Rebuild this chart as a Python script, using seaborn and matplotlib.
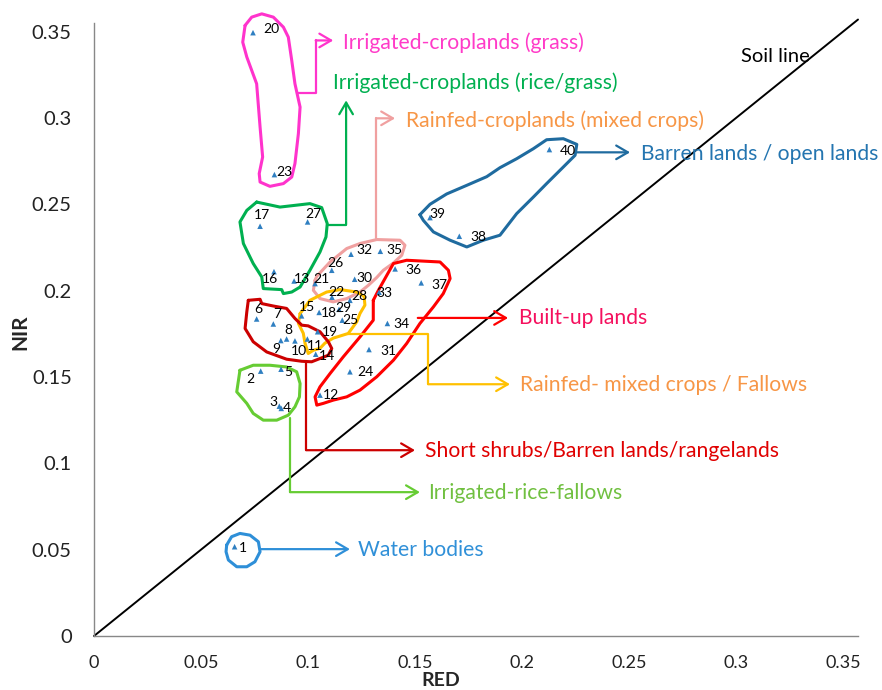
import numpy as np
import pandas as pd
import matplotlib
matplotlib.use("Agg")
import matplotlib.pyplot as plt
import seaborn as sns

# ---------------- data ----------------
point_id = list(range(1, 41))
red = [0.0657, 0.0779, 0.0866, 0.0875, 0.0874, 0.0760, 0.0838, 0.0900, 0.0873, 0.0939,
       0.0997, 0.1056, 0.0935, 0.1036, 0.0970, 0.0841, 0.0776, 0.1052, 0.1045, 0.0743,
       0.1033, 0.1112, 0.0843, 0.1196, 0.1160, 0.1111, 0.0998, 0.1196, 0.1145, 0.1218,
       0.1285, 0.1201, 0.1332, 0.1371, 0.1338, 0.1407, 0.1529, 0.1707, 0.1570, 0.2128]
nir = [0.0517, 0.1534, 0.1331, 0.1318, 0.1545, 0.1836, 0.1807, 0.1720, 0.1711, 0.1709,
       0.1720, 0.1395, 0.2056, 0.1632, 0.1854, 0.2110, 0.2373, 0.1874, 0.1762, 0.3494,
       0.2041, 0.1962, 0.2672, 0.1530, 0.1829, 0.2118, 0.2398, 0.1944, 0.1892, 0.2066,
       0.1659, 0.2211, 0.1991, 0.1810, 0.2228, 0.2126, 0.2045, 0.2315, 0.2423, 0.2817]

x_ticks = [0, 0.05, 0.1, 0.15, 0.2, 0.25, 0.3, 0.35]
x_tick_labels = ["0", "0.05", "0.1", "0.15", "0.2", "0.25", "0.3", "0.35"]
y_ticks = [0, 0.05, 0.1, 0.15, 0.2, 0.25, 0.3, 0.35]
y_tick_labels = ["0", "0.05", "0.1", "0.15", "0.2", "0.25", "0.3", "0.35"]

soil_red = [0.0, 0.357]
soil_nir = [0.0, 0.357]

class_names = [
    "Irrigated-croplands (grass)",
    "Irrigated-croplands (rice/grass)",
    "Rainfed-croplands (mixed crops)",
    "Barren lands / open lands",
    "Built-up lands",
    "Rainfed- mixed crops / Fallows",
    "Short shrubs/Barren lands/rangelands",
    "Irrigated-rice-fallows",
    "Water bodies",
]

# ---------------- label offsets (pixels, right / down) ----------------
label_offset_px = [(8, 1), (-10, 8), (-6, -4), (6, 0), (7, 3), (2, -10), (4, -10), (2, -9), (-5, 8), (4, 10),
                   (8, 7), (11, 0), (8, -2), (11, 2), (5, -9), (-4, 7), (2, -11), (10, 1), (12, 0), (18, -4),
                   (6, -5), (4, -5), (10, -3), (15, 0), (8, 0), (4, -7), (6, -8), (9, -4), (4, -1), (10, -1),
                   (19, 1), (13, -4), (5, 1), (14, 1), (14, -1), (18, 1), (18, 2), (19, 1), (7, -4), (18, 1)]

# ---------------- annotation geometry (data units) ----------------
annotations = [
    dict(outline=[(0.0706, 0.3536), (0.0737, 0.3584), (0.0784, 0.3603), (0.0838, 0.3584), (0.0885, 0.3526),
                  (0.0908, 0.3468), (0.0924, 0.3333), (0.0939, 0.3198), (0.0963, 0.3063), (0.0955, 0.2909),
                  (0.0939, 0.2736), (0.0924, 0.2658), (0.0885, 0.2620), (0.0822, 0.2604), (0.0776, 0.2629),
                  (0.0772, 0.2678), (0.0788, 0.2774), (0.0776, 0.2948), (0.0760, 0.3198), (0.0714, 0.3353),
                  (0.0695, 0.3439)],
         conn=[(0.0950, 0.3146), (0.1036, 0.3146), (0.1036, 0.3449), (0.1118, 0.3449)],
         text=(0.1164, 0.3438), line_color="#FF33CC", text_color="#FF3BC8"),
    dict(outline=[(0.0760, 0.2513), (0.0869, 0.2484), (0.1009, 0.2504), (0.1064, 0.2481), (0.1090, 0.2388),
                  (0.1084, 0.2311), (0.1056, 0.2224), (0.1009, 0.2118), (0.0963, 0.2021), (0.0924, 0.1992),
                  (0.0885, 0.1983), (0.0877, 0.2006), (0.0791, 0.2012), (0.0784, 0.2079), (0.0744, 0.2157),
                  (0.0698, 0.2273), (0.0682, 0.2398), (0.0714, 0.2465)],
         conn=[(0.1089, 0.2383), (0.1178, 0.2383), (0.1178, 0.3102)],
         text=(0.1117, 0.3206), line_color="#00B050", text_color="#00B050"),
    dict(outline=[(0.1033, 0.2060), (0.1041, 0.2083), (0.1103, 0.2166), (0.1181, 0.2244), (0.1243, 0.2273),
                  (0.1321, 0.2296), (0.1430, 0.2292), (0.1453, 0.2263), (0.1438, 0.2205), (0.1399, 0.2160),
                  (0.1352, 0.2118), (0.1321, 0.2076), (0.1282, 0.2031), (0.1243, 0.1992), (0.1181, 0.1954),
                  (0.1118, 0.1935), (0.1056, 0.1954), (0.1025, 0.2002)],
         conn=[(0.1318, 0.2303), (0.1318, 0.2998), (0.1407, 0.2998)],
         text=(0.1458, 0.2986), line_color="#F0A0A0", text_color="#F79646"),
    dict(outline=[(0.1523, 0.2440), (0.1570, 0.2500), (0.1648, 0.2560), (0.1742, 0.2610), (0.1835, 0.2660),
                  (0.1897, 0.2712), (0.1975, 0.2764), (0.2053, 0.2822), (0.2115, 0.2874), (0.2193, 0.2880),
                  (0.2256, 0.2847), (0.2248, 0.2784), (0.2193, 0.2716), (0.2115, 0.2620), (0.2053, 0.2542),
                  (0.1975, 0.2446), (0.1897, 0.2321), (0.1819, 0.2292), (0.1742, 0.2253), (0.1664, 0.2292),
                  (0.1586, 0.2340), (0.1539, 0.2407)],
         conn=[(0.2257, 0.2801), (0.2505, 0.2801)],
         text=(0.2556, 0.2789), line_color="#1F6B9F", text_color="#2475B0"),
    dict(outline=[(0.1305, 0.1944), (0.1329, 0.2002), (0.1399, 0.2157), (0.1461, 0.2176), (0.1617, 0.2166),
                  (0.1656, 0.2118), (0.1664, 0.2070), (0.1632, 0.1983), (0.1586, 0.1906), (0.1523, 0.1810),
                  (0.1461, 0.1694), (0.1399, 0.1597), (0.1321, 0.1501), (0.1243, 0.1424), (0.1181, 0.1385),
                  (0.1118, 0.1366), (0.1071, 0.1347), (0.1041, 0.1337), (0.1033, 0.1385), (0.1056, 0.1443),
                  (0.1103, 0.1520), (0.1165, 0.1617), (0.1243, 0.1732), (0.1305, 0.1829)],
         conn=[(0.1513, 0.1842), (0.1935, 0.1842)],
         text=(0.1986, 0.1840), line_color="#FF0000", text_color="#F5105E"),
    dict(outline=[(0.0963, 0.1867), (0.1009, 0.1944), (0.1087, 0.1992), (0.1150, 0.2006), (0.1228, 0.1992),
                  (0.1262, 0.1968), (0.1266, 0.1916), (0.1243, 0.1868), (0.1228, 0.1820), (0.1188, 0.1752),
                  (0.1118, 0.1725), (0.1079, 0.1696), (0.1056, 0.1666), (0.1025, 0.1655), (0.1001, 0.1636),
                  (0.0986, 0.1696), (0.0978, 0.1753), (0.0955, 0.1811)],
         conn=[(0.1187, 0.1748), (0.1561, 0.1748), (0.1561, 0.1458), (0.1944, 0.1458)],
         text=(0.1991, 0.1453), line_color="#FFC000", text_color="#F79646"),
    dict(outline=[(0.0721, 0.1944), (0.0776, 0.1950), (0.0784, 0.1925), (0.0838, 0.1911), (0.0900, 0.1897),
                  (0.0939, 0.1839), (0.0971, 0.1800), (0.1001, 0.1796), (0.1056, 0.1762), (0.1095, 0.1704),
                  (0.1111, 0.1665), (0.1095, 0.1626), (0.1017, 0.1588), (0.0971, 0.1591), (0.0900, 0.1603),
                  (0.0807, 0.1645), (0.0744, 0.1704), (0.0706, 0.1781), (0.0714, 0.1877)],
         conn=[(0.0991, 0.1591), (0.0991, 0.1076), (0.1500, 0.1076)],
         text=(0.1547, 0.1071), line_color="#CC0000", text_color="#E00000"),
    dict(outline=[(0.0682, 0.1539), (0.0744, 0.1568), (0.0822, 0.1568), (0.0900, 0.1558), (0.0947, 0.1530),
                  (0.0963, 0.1462), (0.0960, 0.1385), (0.0939, 0.1327), (0.0908, 0.1279), (0.0854, 0.1250),
                  (0.0791, 0.1250), (0.0744, 0.1289), (0.0714, 0.1347), (0.0667, 0.1414)],
         conn=[(0.0916, 0.1262), (0.0916, 0.0833), (0.1523, 0.0833)],
         text=(0.1561, 0.0828), line_color="#66CC33", text_color="#70C040"),
    dict(outline=[(0.0620, 0.0527), (0.0643, 0.0575), (0.0682, 0.0594), (0.0729, 0.0584), (0.0768, 0.0546),
                  (0.0776, 0.0488), (0.0752, 0.0430), (0.0714, 0.0401), (0.0667, 0.0401), (0.0628, 0.0440),
                  (0.0617, 0.0488)],
         conn=[(0.0776, 0.0503), (0.1196, 0.0503)],
         text=(0.1234, 0.0498), line_color="#2E8FD8", text_color="#3090D8"),
]

# ---------------- figure ----------------
sns.set_theme(style="white")
plt.rcParams["font.family"] = ["Lato", "DejaVu Sans"]

W, H = 882, 690
fig = plt.figure(figsize=(W / 100, H / 100), dpi=100)
ax = fig.add_axes([94 / W, 1 - 636 / H, 764 / W, 613 / H])

df = pd.DataFrame({"RED": red, "NIR": nir, "id": point_id})

# soil line
sns.lineplot(x=soil_red, y=soil_nir, ax=ax, color="black", lw=1.4, clip_on=False, zorder=2)
ax.text(0.3023, 0.3356, "Soil line", fontsize=14.5, color="black", ha="left", va="center", zorder=6)

# outlines & connectors
for ann, name in zip(annotations, class_names):
    pts = np.array(ann["outline"] + [ann["outline"][0]])
    ax.plot(pts[:, 0], pts[:, 1], color=ann["line_color"], lw=2.2, solid_joinstyle="round",
            clip_on=False, zorder=3)
    conn = np.array(ann["conn"])
    if len(conn) > 2:
        ax.plot(conn[:-1, 0], conn[:-1, 1], color=ann["line_color"], lw=1.6, clip_on=False, zorder=3)
    ax.annotate("", xy=tuple(conn[-1]), xytext=tuple(conn[-2]),
                arrowprops=dict(arrowstyle="->,head_length=0.6,head_width=0.35", color=ann["line_color"],
                                lw=1.6, shrinkA=0, shrinkB=0, mutation_scale=14),
                annotation_clip=False, zorder=3)
    ax.text(ann["text"][0], ann["text"][1], name, color=ann["text_color"], fontsize=15.2,
            ha="left", va="center", zorder=6)

# points
sns.scatterplot(data=df, x="RED", y="NIR", ax=ax, marker="^", s=16, color="#2F7FC1",
                edgecolor="none", zorder=5, clip_on=False)
for i, r, n in zip(point_id, red, nir):
    dx, dy = label_offset_px[i - 1]
    ax.annotate(str(i), (r, n), xytext=(dx * 0.72, -dy * 0.72), textcoords="offset points",
                ha="center", va="center", fontsize=10, color="black", zorder=6, annotation_clip=False)

# axes
ax.set_xlim(0, 0.357)
ax.set_ylim(0, 0.355)
ax.set_xticks(x_ticks)
ax.set_xticklabels(x_tick_labels)
ax.set_yticks(y_ticks)
ax.set_yticklabels(y_tick_labels)
ax.tick_params(axis="both", length=0, colors="#222222")
ax.tick_params(axis="x", pad=14, labelsize=13)
ax.tick_params(axis="y", pad=16, labelsize=14.5)
for s in ["top", "right"]:
    ax.spines[s].set_visible(False)
for s in ["left", "bottom"]:
    ax.spines[s].set_color("#888888")
    ax.spines[s].set_linewidth(1.0)
ax.grid(False)

ax.set_xlabel("RED", fontsize=14, fontweight="bold")
ax.set_ylabel("NIR", fontsize=15, fontweight="bold")
ax.xaxis.label.set_va("center")
ax.yaxis.label.set_va("center")
ax.xaxis.set_label_coords((441 - 94) / 764, (636 - 681) / 613)
ax.yaxis.set_label_coords((20 - 94) / 764, (636 - 332) / 613)

fig.savefig("out.png", dpi=100)
